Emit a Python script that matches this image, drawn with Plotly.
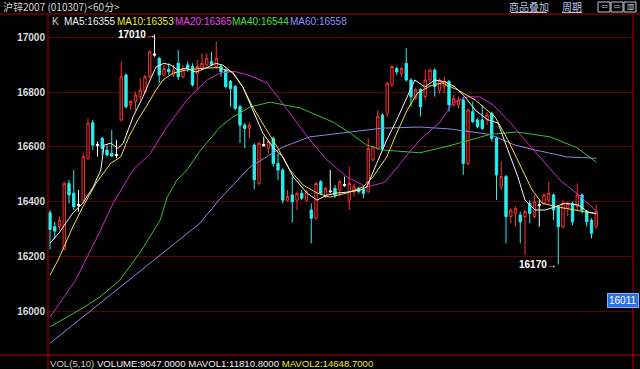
import plotly.graph_objects as go

# ---------------- data ----------------
TITLE = "沪锌2007 (010307)<60分>"
OPEN = [16359, 16308, 16308, 16225, 16466, 16430, 16385, 16405, 16558, 16688,
        16604, 16631, 16588, 16576, 16568, 16698, 16862, 16753, 16765, 16783,
        16801, 16856, 16939, 16923, 16862, 16883, 16862, 16905, 16856, 16899,
        16893, 16868, 16886, 16899, 16911, 16893, 16893, 16880, 16838, 16820,
        16746, 16679, 16667, 16606, 16466, 16604, 16594, 16631, 16539, 16515,
        16405, 16424, 16405, 16430, 16405, 16369, 16339, 16472, 16418, 16436,
        16448, 16442, 16458, 16405, 16436, 16448, 16444, 16436, 16552, 16594,
        16716, 16722, 16826, 16886, 16868, 16905, 16844, 16777, 16810, 16783,
        16844, 16880, 16807, 16820, 16838, 16753, 16753, 16771, 16539, 16728,
        16698, 16698, 16698, 16722, 16631, 16454, 16491, 16345, 16357, 16351,
        16345, 16393, 16345, 16385, 16393, 16405, 16424, 16381, 16308, 16375,
        16393, 16381, 16424, 16363, 16332, 16308]
HIGH = [16369, 16326, 16345, 16472, 16479, 16515, 16442, 16576, 16704, 16698,
        16619, 16637, 16606, 16661, 16625, 16911, 16868, 16771, 16801, 16850,
        16862, 16953, 17010, 16929, 16899, 16905, 16899, 16953, 16899, 16911,
        16905, 16917, 16941, 16941, 16947, 16984, 16899, 16886, 16844, 16826,
        16753, 16686, 16686, 16613, 16619, 16637, 16625, 16637, 16576, 16521,
        16442, 16491, 16436, 16442, 16442, 16393, 16472, 16479, 16454, 16515,
        16460, 16479, 16491, 16527, 16466, 16454, 16454, 16631, 16606, 16734,
        16722, 16838, 16899, 16893, 16893, 16960, 16850, 16813, 16813, 16880,
        16886, 16886, 16850, 16856, 16844, 16789, 16783, 16783, 16740, 16765,
        16704, 16753, 16728, 16728, 16637, 16546, 16497, 16375, 16381, 16363,
        16369, 16405, 16424, 16405, 16430, 16472, 16430, 16387, 16405, 16399,
        16399, 16466, 16430, 16369, 16339, 16387]
LOW = [16225, 16265, 16296, 16223, 16393, 16369, 16363, 16393, 16552, 16588,
       16564, 16570, 16564, 16564, 16558, 16692, 16740, 16734, 16734, 16771,
       16795, 16850, 16929, 16832, 16856, 16862, 16856, 16844, 16850, 16874,
       16820, 16807, 16880, 16893, 16899, 16886, 16856, 16813, 16746, 16734,
       16613, 16594, 16631, 16444, 16460, 16600, 16576, 16527, 16479, 16393,
       16399, 16323, 16369, 16405, 16399, 16247, 16332, 16424, 16412, 16430,
       16412, 16418, 16454, 16369, 16418, 16430, 16412, 16430, 16546, 16588,
       16588, 16710, 16820, 16862, 16856, 16838, 16746, 16771, 16710, 16771,
       16838, 16783, 16795, 16795, 16728, 16746, 16740, 16497, 16533, 16686,
       16667, 16661, 16679, 16619, 16405, 16442, 16247, 16320, 16308, 16247,
       16205, 16320, 16339, 16308, 16387, 16393, 16332, 16170, 16302, 16345,
       16314, 16369, 16357, 16308, 16265, 16302]
CLOSE = [16298, 16292, 16332, 16466, 16424, 16381, 16389, 16564, 16686, 16606,
         16608, 16594, 16570, 16566, 16572, 16856, 16746, 16765, 16789, 16807,
         16856, 16947, 16935, 16862, 16886, 16874, 16880, 16856, 16886, 16886,
         16826, 16893, 16905, 16923, 16899, 16923, 16874, 16820, 16813, 16740,
         16679, 16667, 16679, 16479, 16613, 16608, 16619, 16539, 16515, 16405,
         16418, 16399, 16430, 16412, 16436, 16339, 16466, 16430, 16448, 16438,
         16424, 16472, 16462, 16466, 16454, 16436, 16430, 16594, 16600, 16710,
         16594, 16832, 16893, 16874, 16886, 16844, 16783, 16807, 16746, 16844,
         16880, 16820, 16844, 16838, 16753, 16777, 16771, 16539, 16734, 16692,
         16673, 16667, 16716, 16631, 16497, 16491, 16345, 16369, 16375, 16326,
         16363, 16357, 16399, 16389, 16424, 16430, 16369, 16308, 16393, 16393,
         16326, 16424, 16369, 16326, 16284, 16363]

# moving-average curves (candle index, price)
MA5_IDX = [0, 1.9, 4.8, 6.9, 9.1, 10.7, 11.4, 12.8, 14.3, 15.4, 17.5, 19.6, 20.8, 22.3, 24.0,
           25.5, 26.9, 28.6, 30.7, 32.8, 34.9, 36.4, 38.5, 40.6, 42.7, 44.8, 46.9, 49.0, 51.2,
           54.1, 56.2, 58.3, 60.4, 62.5, 65.3, 66.7, 68.8, 70.9, 73.0, 75.2, 76.8, 78.9, 81.0,
           83.2, 85.3, 87.4, 89.5, 92.2, 94.3, 96.4, 98.5, 100.0, 102.1, 104.2, 106.3, 108.4,
           111.2, 113.3, 115]
MA5_VAL = [16248, 16285, 16358, 16394, 16453, 16515, 16606, 16613, 16594, 16612, 16710, 16783,
           16833, 16891, 16905, 16898, 16880, 16887, 16873, 16887, 16905, 16898, 16869, 16818,
           16734, 16650, 16599, 16563, 16490, 16431, 16405, 16423, 16431, 16434, 16442, 16453,
           16540, 16625, 16698, 16782, 16844, 16818, 16844, 16837, 16818, 16782, 16734, 16698,
           16687, 16588, 16490, 16405, 16369, 16369, 16380, 16394, 16387, 16362, 16355]
MA10_IDX = [0, 1.7, 3.6, 4.8, 6.9, 9.7, 12.8, 14.9, 16.6, 18.5, 20.2, 22.3, 23.8, 25.9, 28.6,
            32.2, 35.6, 38.5, 40.6, 42.7, 45.3, 47.8, 50.5, 53.3, 56.2, 58.9, 62.5, 65.9, 68.0,
            70.9, 73.0, 75.2, 77.3, 80.0, 82.5, 85.9, 89.5, 93.7, 96.4, 99.4, 101.5, 103.6,
            106.9, 110.5, 115]
MA10_VAL = [16131, 16186, 16260, 16307, 16380, 16467, 16540, 16563, 16636, 16698, 16745, 16807,
            16844, 16869, 16880, 16887, 16889, 16872, 16818, 16745, 16670, 16600, 16515, 16460,
            16431, 16416, 16431, 16453, 16490, 16563, 16650, 16734, 16795, 16822, 16833, 16807,
            16771, 16709, 16625, 16515, 16442, 16394, 16380, 16369, 16355]
MA20_IDX = [0, 5.3, 10.5, 13.3, 16.2, 17.5, 21.1, 24.6, 28.8, 33.1, 35.8, 38.9, 42.1, 45.7,
            49.5, 54.7, 58.3, 62.5, 66.7, 70.5, 75.2, 77.9, 82.1, 84.8, 87.8, 90.5, 93.3, 96.8,
            101.7, 107.4, 111.6, 115]
MA20_VAL = [15978, 16110, 16290, 16395, 16478, 16515, 16575, 16672, 16771, 16844, 16869, 16875,
            16860, 16833, 16745, 16625, 16552, 16490, 16453, 16470, 16570, 16625, 16690, 16760,
            16782, 16782, 16752, 16690, 16590, 16478, 16420, 16365]
MA40_IDX = [0, 6.9, 10.5, 14.7, 18.9, 23.2, 24.6, 26.7, 28.8, 31.6, 35.8, 38.5, 42.1, 46.3,
            52.6, 59.6, 63.2, 66.7, 70.1, 77.9, 84.2, 92.6, 98.3, 105.3, 110.9, 115]
MA40_VAL = [15942, 16011, 16051, 16113, 16212, 16332, 16413, 16478, 16515, 16585, 16672, 16709,
            16745, 16763, 16742, 16690, 16650, 16606, 16588, 16578, 16604, 16645, 16654, 16636,
            16597, 16544]
MA60_IDX = [0, 10.5, 21.1, 31.6, 35.8, 42.1, 49.0, 54.7, 63.2, 70.1, 77.9, 84.2, 92.6, 97.9,
            101.7, 104.8, 108.8, 115]
MA60_VAL = [15882, 16029, 16175, 16321, 16410, 16526, 16599, 16636, 16654, 16668, 16672, 16665,
            16645, 16606, 16590, 16577, 16563, 16558]

MA_NAMES = ["MA5", "MA10", "MA20", "MA40", "MA60"]
MA_LAST = [16355, 16353, 16365, 16544, 16558]
Y_TICKS = [16000, 16200, 16400, 16600, 16800, 17000]
HIGH_MARK = 17010
LOW_MARK = 16170
CURSOR_PRICE = 16011
VOL_NAMES = ["VOLUME", "MAVOL1", "MAVOL2"]
VOL_VALUES = ["9047.0000", "11810.8000", "14648.7000"]

# ---------------- style ----------------
W, H = 640, 369
X0, X1 = 48, 633          # plot area left / right (px)
Y0, Y1 = 14, 355          # plot area top / bottom (px)
FONT = "Liberation Sans, Arial, sans-serif"
MA_LINE_COLORS = ["#f4f4f4", "#f0e040", "#d02ad0", "#36c236", "#8888e4"]
MA_TEXT_COLORS = ["#f0f0f0", "#ecec30", "#f040f0", "#40e040", "#9090ff"]
UP, DOWN, DOJI = "#ff3030", "#28f0f0", "#ffffff"

n = len(CLOSE)
idx = list(range(n))
doji = [i for i in idx if abs(CLOSE[i] - OPEN[i]) <= 5]
norm = [i for i in idx if i not in doji]

fig = go.Figure()

for xs, ys, col in zip([MA60_IDX, MA40_IDX, MA20_IDX, MA10_IDX, MA5_IDX],
                       [MA60_VAL, MA40_VAL, MA20_VAL, MA10_VAL, MA5_VAL],
                       MA_LINE_COLORS[::-1]):
    fig.add_trace(go.Scatter(x=xs, y=ys, mode="lines", line=dict(color=col, width=1),
                             hoverinfo="skip"))

def pick(arr, sel):
    return [arr[i] for i in sel]

fig.add_trace(go.Candlestick(
    x=norm, open=pick(OPEN, norm), high=pick(HIGH, norm), low=pick(LOW, norm),
    close=pick(CLOSE, norm), whiskerwidth=0,
    increasing=dict(line=dict(color=UP, width=1), fillcolor="#000000"),
    decreasing=dict(line=dict(color=DOWN, width=1), fillcolor=DOWN)))
fig.add_trace(go.Candlestick(
    x=doji, open=pick(OPEN, doji), high=pick(HIGH, doji), low=pick(LOW, doji),
    close=pick(CLOSE, doji), whiskerwidth=0,
    increasing=dict(line=dict(color=DOJI, width=1), fillcolor=DOJI),
    decreasing=dict(line=dict(color=DOJI, width=1), fillcolor=DOJI)))

# axis ranges mapped to pixel frame
step = 4.75
x_lo = -(50 - X0) / step
x_hi = (X1 - 50) / step
ppu = (311 - 37.25) / 1000.0
y_hi = 17000 + (37.25 - Y0) / ppu
y_lo = 16000 - (Y1 - 311) / ppu

ann = []
# title
ann.append(dict(x=1 / W, y=1 - 7 / H, xref="paper", yref="paper", xanchor="left",
                yanchor="middle", text=TITLE, showarrow=False,
                font=dict(family="Noto Sans CJK SC", size=10, color="#d8d8d8")))
# top-right menu
for label, cx in [("商品叠加", 529), ("周期", 572)]:
    ann.append(dict(x=cx / W, y=1 - 7 / H, xref="paper", yref="paper", xanchor="center",
                    yanchor="middle", text=label, showarrow=False,
                    font=dict(family="Noto Sans CJK SC", size=10, color="#b8c8e8")))
for sym, cx in [("⇦", 604.5), ("⇨", 617.5), ("▥", 630.5)]:
    ann.append(dict(x=cx / W, y=1 - 7 / H, xref="paper", yref="paper", xanchor="center",
                    yanchor="middle", text=sym, showarrow=False,
                    font=dict(family="DejaVu Sans", size=8, color="#c0c8d8")))
# legend row
ann.append(dict(x=50 / W, y=1 - 22 / H, xref="paper", yref="paper", xanchor="left",
                yanchor="middle", text="K", showarrow=False,
                font=dict(family=FONT, size=10, color="#d0d0d0")))
leg_x = [62, 115, 173, 230, 288]
for name, val, col, lx in zip(MA_NAMES, MA_LAST, MA_TEXT_COLORS, leg_x):
    ann.append(dict(x=lx / W, y=1 - 22 / H, xref="paper", yref="paper", xanchor="left",
                    yanchor="middle", text=f"{name}:{val}", showarrow=False,
                    font=dict(family=FONT, size=10, color=col)))
# high / low markers
hi_i = HIGH.index(max(HIGH))
lo_i = LOW.index(min(LOW))
ann.append(dict(x=hi_i, y=HIGH_MARK, xref="x", yref="y", xanchor="right", yanchor="middle",
                text=f"{HIGH_MARK}→", showarrow=False, xshift=3,
                font=dict(family=FONT, size=10, color="#ffffff", weight="bold")))
ann.append(dict(x=lo_i, y=LOW_MARK, xref="x", yref="y", xanchor="right", yanchor="middle",
                text=f"{LOW_MARK}→", showarrow=False, xshift=1,
                font=dict(family=FONT, size=10, color="#ffffff", weight="bold")))
# cursor price box
ann.append(dict(x=623 / W, y=1 - 300 / H, xref="paper", yref="paper", xanchor="center",
                yanchor="middle", text=str(CURSOR_PRICE), showarrow=False,
                bgcolor="#2d6fe0", bordercolor="#8ab0ff", borderwidth=1, borderpad=1,
                font=dict(family=FONT, size=10, color="#ffffff")))
# volume line at bottom
vol_txt = '<span style="color:#c8c8c8">VOL(5,10) </span>'
vol_cols = ["#f0f0f0", "#f0f0f0", "#ecec30"]
vol_txt += " ".join(f'<span style="color:{c}">{nm}:{v}</span>'
                    for nm, v, c in zip(VOL_NAMES, VOL_VALUES, vol_cols))
ann.append(dict(x=48 / W, y=1 - 363 / H, xref="paper", yref="paper", xanchor="left",
                yanchor="middle", text=vol_txt, showarrow=False,
                font=dict(family=FONT, size=9.6, color="#f0f0f0")))

shapes = []
red = "#b40000"
shapes.append(dict(type="line", xref="paper", yref="paper", x0=0, x1=1,
                   y0=1 - Y0 / H, y1=1 - Y0 / H, line=dict(color=red, width=1)))
shapes.append(dict(type="line", xref="paper", yref="paper", x0=0, x1=1,
                   y0=1 - Y1 / H, y1=1 - Y1 / H, line=dict(color=red, width=1)))
shapes.append(dict(type="line", xref="paper", yref="paper", x0=X0 / W, x1=X0 / W,
                   y0=1 - Y0 / H, y1=0, line=dict(color=red, width=1)))
shapes.append(dict(type="line", xref="paper", yref="paper", x0=X1 / W, x1=X1 / W,
                   y0=1 - Y0 / H, y1=0, line=dict(color=red, width=1)))
# menu underlines and buttons
for a, b in [(511, 547), (562, 582)]:
    shapes.append(dict(type="line", xref="paper", yref="paper", x0=a / W, x1=b / W,
                       y0=1 - 12.5 / H, y1=1 - 12.5 / H, line=dict(color="#b8c8e8", width=1)))
for a in [598, 611, 624]:
    shapes.append(dict(type="rect", xref="paper", yref="paper", x0=a / W, x1=(a + 12) / W,
                       y0=1 - 12 / H, y1=1 - 2 / H, line=dict(color="#c0c8d8", width=1)))

fig.update_layout(
    width=W, height=H, margin=dict(l=0, r=0, t=0, b=0),
    paper_bgcolor="#000000", plot_bgcolor="#000000", showlegend=False,
    annotations=ann, shapes=shapes,
    xaxis=dict(domain=[X0 / W, X1 / W], range=[x_lo, x_hi], showgrid=False,
               showticklabels=False, zeroline=False, rangeslider=dict(visible=False),
               fixedrange=True),
    yaxis=dict(domain=[1 - Y1 / H, 1 - Y0 / H], range=[y_lo, y_hi], tickvals=Y_TICKS,
               ticktext=[str(v) for v in Y_TICKS], showgrid=True, gridcolor="#5a0606",
               gridwidth=1, zeroline=False, ticks="", ticklabelstandoff=2,
               tickfont=dict(family=FONT, size=10, color="#dcdcdc", weight="bold"),
               fixedrange=True),
)

fig.write_html("out.html")
